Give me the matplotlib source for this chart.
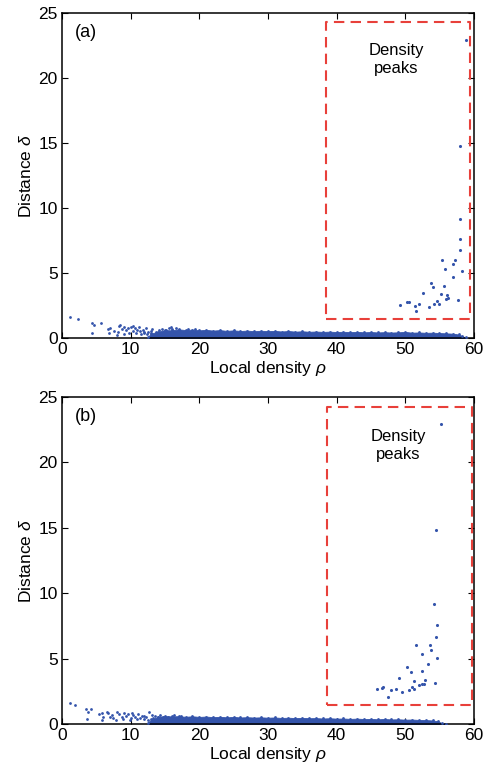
import matplotlib
matplotlib.use("Agg")
import matplotlib.pyplot as plt

plt.rcParams['font.family'] = ['Liberation Sans', 'DejaVu Sans']
plt.rcParams['mathtext.fontset'] = 'custom'
plt.rcParams['mathtext.it'] = 'Liberation Sans:italic'
plt.rcParams['mathtext.rm'] = 'Liberation Sans'

DOT = '#3454ab'
BOX = '#e8403a'

# ---------------- panel (a) ----------------
a_sparse_rho = [1.17, 2.28, 4.32, 4.7, 5.63, 4.42, 6.65, 7.0, 6.84, 7.96, 8.25, 8.5, 8.98,
                8.74, 9.3, 9.56, 10.1, 10.4, 10.6, 11.0, 11.25, 11.8, 12.2, 12.6, 13.15,
                13.7, 14.1, 14.75, 15.9, 16.1, 17.1, 9.0, 10.8, 11.5, 12.9, 13.4, 14.4,
                7.6, 8.1, 9.8, 11.9, 12.4, 15.2, 10.3, 11.3, 12.0, 13.0, 13.9, 14.6,
                15.6, 16.6, 18.3, 19.4]
a_sparse_delta = [1.59, 1.44, 1.13, 1.0, 1.13, 0.38, 0.69, 0.8, 0.41, 0.23, 0.95, 1.02, 0.87,
                  0.69, 0.59, 0.77, 0.87, 0.97, 0.77, 0.62, 0.87, 0.62, 0.8, 0.5, 0.69,
                  0.51, 0.62, 0.46, 0.87, 0.69, 0.5, 0.35, 0.42, 0.3, 0.38, 0.25, 0.33,
                  0.55, 0.45, 0.4, 0.36, 0.28, 0.6, 0.52, 0.55, 0.45, 0.55, 0.4, 0.7,
                  0.75, 0.78, 0.72, 0.7]

a_peak_rho = [58.8, 58.0, 57.96, 57.96, 57.96, 55.4, 57.3, 55.8, 56.9, 58.3, 57.0, 53.8,
              54.1, 55.6, 52.6, 55.2, 56.1, 56.0, 56.3, 57.7, 54.65, 54.2, 54.9, 53.5,
              49.3, 50.2, 50.5, 51.4, 52.0, 51.6]
a_peak_delta = [22.9, 14.8, 9.18, 7.59, 6.77, 6.0, 6.02, 5.33, 5.67, 5.15, 4.67, 4.23,
                3.95, 4.02, 3.51, 3.36, 3.33, 3.02, 3.05, 2.92, 2.82, 2.62, 2.59, 2.36,
                2.56, 2.77, 2.75, 2.49, 2.62, 2.08]

a_band_rho = [12.5, 13, 14, 15, 16, 17, 18, 19, 20, 21, 22, 23, 24, 25, 26, 27, 28, 29, 30,
              31, 32, 33, 34, 35, 36, 37, 38, 39, 40, 41, 42, 43, 44, 45, 46, 47, 48, 49,
              50, 51, 52, 53, 54, 55, 56, 57, 57.8, 58.3, 58.8]
a_band_top = [0.1, 0.35, 0.5, 0.62, 0.6, 0.68, 0.62, 0.66, 0.6, 0.64, 0.58, 0.62, 0.56,
              0.6, 0.55, 0.58, 0.53, 0.57, 0.54, 0.56, 0.51, 0.55, 0.5, 0.53, 0.49, 0.51,
              0.48, 0.5, 0.47, 0.49, 0.46, 0.48, 0.45, 0.47, 0.44, 0.46, 0.43, 0.45, 0.48,
              0.42, 0.44, 0.41, 0.42, 0.39, 0.37, 0.34, 0.28, 0.16, 0.05]

# ---------------- panel (b) ----------------
b_sparse_rho = [1.17, 1.9, 3.45, 4.22, 3.74, 3.64, 5.43, 5.82, 6.0, 5.82, 6.5, 6.75, 7.28,
                7.47, 8.05, 8.3, 8.7, 9.03, 9.3, 9.66, 10.0, 10.2, 10.6, 11.1, 11.6, 12.2,
                12.7, 13.05, 13.5, 14.3, 14.75, 15.5, 7.0, 7.8, 8.9, 9.9, 10.9, 11.9, 12.5,
                10.4, 11.4, 12.0, 13.2, 14.0, 16.3, 17.4]
b_sparse_delta = [1.63, 1.43, 1.12, 1.15, 0.94, 0.36, 0.74, 0.82, 0.56, 0.31, 0.94, 0.82,
                  0.69, 0.44, 0.94, 0.74, 0.56, 0.86, 0.61, 0.76, 0.44, 0.82, 0.56, 0.74,
                  0.61, 0.51, 0.89, 0.69, 0.63, 0.69, 0.56, 0.51, 0.5, 0.3, 0.38, 0.28,
                  0.35, 0.4, 0.3, 0.66, 0.45, 0.62, 0.42, 0.5, 0.66, 0.62]

b_peak_rho = [55.2, 54.5, 54.17, 54.6, 54.5, 51.55, 53.6, 53.8, 52.5, 54.6, 53.3, 50.3,
              50.9, 52.5, 49.1, 51.35, 52.95, 54.3, 52.8, 52.4, 52.0, 51.0, 51.3, 50.5,
              49.6, 48.7, 47.9, 45.9, 46.6, 46.8, 47.5]
b_peak_delta = [22.9, 14.8, 9.17, 7.54, 6.65, 6.01, 6.01, 5.66, 5.32, 5.07, 4.56, 4.38,
                3.95, 4.03, 3.52, 3.31, 3.34, 3.13, 3.08, 3.06, 2.96, 2.8, 2.7, 2.62,
                2.47, 2.65, 2.58, 2.7, 2.78, 2.83, 2.09]

b_band_rho = [12.5, 13, 14, 15, 16, 17, 18, 19, 20, 21, 22, 23, 24, 25, 26, 27, 28, 29, 30,
              31, 32, 33, 34, 35, 36, 37, 38, 39, 40, 41, 42, 43, 44, 45, 46, 47, 48, 49,
              50, 51, 52, 53, 54, 54.8, 55.3, 56.0]
b_band_top = [0.1, 0.35, 0.55, 0.6, 0.58, 0.6, 0.55, 0.59, 0.54, 0.57, 0.52, 0.55, 0.51,
              0.54, 0.5, 0.52, 0.49, 0.51, 0.48, 0.5, 0.46, 0.48, 0.45, 0.47, 0.44, 0.45,
              0.42, 0.44, 0.41, 0.42, 0.39, 0.41, 0.38, 0.39, 0.36, 0.38, 0.35, 0.36, 0.33,
              0.34, 0.31, 0.3, 0.27, 0.2, 0.07, 0.03]

# dashed selection boxes (rho_min, rho_max, delta_min, delta_max)
a_box = [38.4, 59.4, 1.5, 24.3]
b_box = [38.6, 59.7, 1.45, 24.2]

x_ticks = [0, 10, 20, 30, 40, 50, 60]
y_ticks = [0, 5, 10, 15, 20, 25]

FS = 12.5

fig = plt.figure(figsize=(4.92, 7.72), dpi=100)
ax_a = fig.add_axes([0.126, 0.562, 0.837, 0.421])
ax_b = fig.add_axes([0.126, 0.0622, 0.837, 0.4236])

panels = [
    (ax_a, '(a)', a_sparse_rho, a_sparse_delta, a_peak_rho, a_peak_delta,
     a_band_rho, a_band_top, a_box),
    (ax_b, '(b)', b_sparse_rho, b_sparse_delta, b_peak_rho, b_peak_delta,
     b_band_rho, b_band_top, b_box),
]

for ax, tag, sr, sd, pr, pd, br, bt, box in panels:
    ax.fill_between(br, 0, bt, color=DOT, lw=0.6, edgecolor=DOT, zorder=2)
    ax.scatter(br, bt, s=4, color=DOT, lw=0, zorder=3)
    ax.scatter(sr, sd, s=4, color=DOT, lw=0, zorder=3)
    ax.scatter(pr, pd, s=5, color=DOT, lw=0, zorder=3)

    x0, x1, y0, y1 = box
    ax.plot([x0, x1, x1, x0, x0], [y0, y0, y1, y1, y0], color=BOX, lw=1.5,
            linestyle=(0, (5, 3)), zorder=4, solid_capstyle='butt')
    ax.text((x0 + x1) / 2 - 0.2, y1 - 2.9, 'Density\npeaks', ha='center', va='center',
            fontsize=12, linespacing=1.25)
    ax.text(0.058, 0.94, tag, transform=ax.transAxes, ha='center', va='center',
            fontsize=13)

    ax.set_xlim(0, 60)
    ax.set_ylim(0, 25)
    ax.set_xticks(x_ticks)
    ax.set_yticks(y_ticks)
    ax.tick_params(direction='in', length=4, width=0.8, top=True, right=True,
                   labelsize=FS, pad=3)
    for sp in ax.spines.values():
        sp.set_linewidth(1.1)
    ax.set_xlabel(r'Local density $\it{\rho}$', fontsize=FS, labelpad=1)
    ax.set_ylabel(r'Distance $\it{\delta}$', fontsize=FS, labelpad=3)

fig.savefig('out.png', dpi=100)
